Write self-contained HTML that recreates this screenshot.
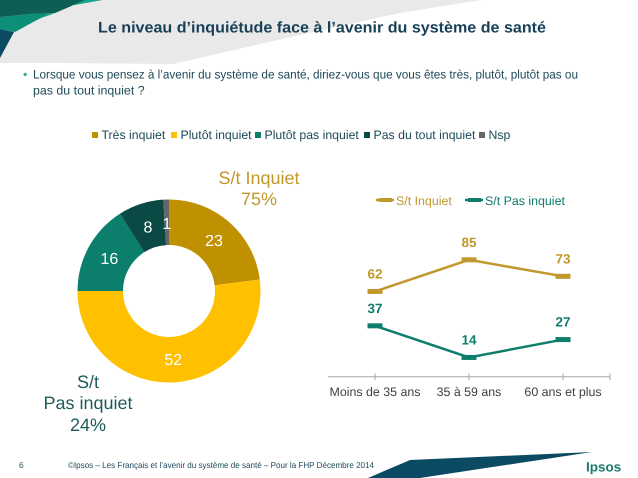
<!DOCTYPE html>
<html lang="fr">
<head>
<meta charset="utf-8">
<title>Le niveau d'inquiétude face à l'avenir du système de santé</title>
<style>
html,body{margin:0;padding:0;background:#fff;}
svg{display:block;font-family:"Liberation Sans",sans-serif;text-rendering:geometricPrecision;}
</style>
</head>
<body>
<svg id="slide" width="638" height="478" viewBox="0 0 638 478" xmlns="http://www.w3.org/2000/svg">
  <g>
    <polygon points="0,0 481,0 400,13 300,35 173,64 60,63 0,63" fill="#e9e9ea"/>
    <polygon points="0,17 30,14 55,13 85,0 102,0 63,7 35,21 15,32 0,29" fill="#0b8f78"/>
    <polygon points="50,15 85,0 102,0 63,7 38,19" fill="#15a58c"/>
    <polygon points="0,0 85,0 55,13 30,14 0,17" fill="#0d5f54"/>
    <polygon points="0,29 14,32 0,58" fill="#0b4a63"/>
  </g>
  <text x="322" y="32.5" text-anchor="middle" font-size="15.5" font-weight="bold" fill="#173f56" textLength="448" lengthAdjust="spacingAndGlyphs">Le niveau d’inquiétude face à l’avenir du système de santé</text>
  <text x="23" y="78.5" font-size="12.4" fill="#35a99a">•</text>
  <text x="33" y="78.5" font-size="12.4" fill="#1f4a5a" textLength="545" lengthAdjust="spacingAndGlyphs">Lorsque vous pensez à l’avenir du système de santé, diriez-vous que vous êtes très, plutôt, plutôt pas ou</text>
  <text x="33" y="94.5" font-size="12.4" fill="#1f4a5a">pas du tout inquiet ?</text>

  <g id="legend" font-size="12.3" fill="#1f4a5a"></g>
  <g id="donut"></g>

  <g font-size="18" fill="#c1982b" text-anchor="middle">
    <text x="259" y="184">S/t Inquiet</text>
    <text x="259" y="205">75%</text>
  </g>
  <g font-size="18" fill="#1f5a5a" text-anchor="middle">
    <text x="88" y="388">S/t</text>
    <text x="88" y="409">Pas inquiet</text>
    <text x="88" y="431">24%</text>
  </g>

  <g id="line-chart"></g>

  <g>
    <text x="19" y="468" font-size="8.5" fill="#1f4a5a">6</text>
    <text x="68" y="468" font-size="8.5" fill="#1f4a5a" textLength="306" lengthAdjust="spacingAndGlyphs">©Ipsos – Les Français et l’avenir du système de santé – Pour la FHP  Décembre 2014</text>
    <polygon points="368,478 410,460 592,452 420,478" fill="#0b4a63"/>
    <text x="586" y="471.5" font-size="13.5" font-weight="bold" fill="#1e7a70">Ipsos</text>
  </g>
</svg>
<script>
var donutCategories = ['Très inquiet', 'Plutôt inquiet', 'Plutôt pas inquiet', 'Pas du tout inquiet', 'Nsp'];
var donutValues = [23, 52, 16, 8, 1];
var donutColors = ['#bf9000', '#ffc000', '#0b7f6b', '#0b4a44', '#666666'];
var lineCategories = ['Moins de 35 ans', '35 à 59 ans', '60 ans et plus'];
var seriesNames = ['S/t Inquiet', 'S/t Pas inquiet'];
var inquietValues = [62, 85, 73];
var pasInquietValues = [37, 14, 27];

var NS = 'http://www.w3.org/2000/svg';
function make(parent, tag, attrs, text) {
  var el = document.createElementNS(NS, tag);
  for (var k in attrs) { el.setAttribute(k, attrs[k]); }
  if (text !== undefined) { el.textContent = text; }
  parent.appendChild(el);
  return el;
}

/* legend */
var legendG = document.getElementById('legend');
var legendSquareX = [92, 171, 255, 364, 479];
for (var li = 0; li < donutCategories.length; li++) {
  var sw = make(legendG, 'rect', {x: legendSquareX[li], y: 132, width: 6, height: 6, fill: donutColors[li]});
  
  
  var lt = make(legendG, 'text', {x: legendSquareX[li] + 9.5, y: 139}, donutCategories[li]);
  
  
}

/* donut */
var donutG = document.getElementById('donut');
var cx = 169, cy = 291, rOuter = 91.5, rInner = 46, rLabel = 68;
function polar(r, frac) {
  var a = frac * 2 * Math.PI;
  return [cx + r * Math.sin(a), cy - r * Math.cos(a)];
}
var total = donutValues.reduce(function (s, v) { return s + v; }, 0);
var acc = 0;
donutValues.forEach(function (v, i) {
  var f0 = acc / total, f1 = (acc + v) / total;
  acc += v;
  var p0 = polar(rOuter, f0), p1 = polar(rOuter, f1), p2 = polar(rInner, f1), p3 = polar(rInner, f0);
  var large = (f1 - f0) > 0.5 ? 1 : 0;
  var d = 'M' + p0[0] + ' ' + p0[1] + 'A' + rOuter + ' ' + rOuter + ' 0 ' + large + ' 1 ' + p1[0] + ' ' + p1[1] +
          'L' + p2[0] + ' ' + p2[1] + 'A' + rInner + ' ' + rInner + ' 0 ' + large + ' 0 ' + p3[0] + ' ' + p3[1] + 'Z';
  var slice = make(donutG, 'path', {d: d, fill: donutColors[i]});
  
  
  var lp = polar(rLabel, (f0 + f1) / 2);
  var label = make(donutG, 'text', {x: lp[0], y: lp[1] + 6, 'font-size': 16, fill: '#fff', 'text-anchor': 'middle'}, String(v));
  
  
});

/* line chart */
var lineG = document.getElementById('line-chart');
function xScale(i) { return 375 + 94 * i; }
function yScale(v) { return 376.7 - 1.375 * v; }
var axisLine = make(lineG, 'line', {x1: 328, y1: 376.7, x2: 610.5, y2: 376.7, stroke: '#a6a6a6', 'stroke-width': 1});


[0, 1, 2, 2.5].forEach(function (t) {
  var tick = make(lineG, 'line', {x1: xScale(t), y1: 373.5, x2: xScale(t), y2: 380, stroke: '#a6a6a6', 'stroke-width': 1});
  
  
});
lineCategories.forEach(function (c, i) {
  var cat = make(lineG, 'text', {x: xScale(i), y: 396, 'font-size': 12.4, fill: '#404040', 'text-anchor': 'middle'}, c);
  
  
});
function drawSeries(values, color) {
  var pts = values.map(function (v, i) { return xScale(i) + ',' + yScale(v); }).join(' ');
  var line = make(lineG, 'polyline', {points: pts, fill: 'none', stroke: color, 'stroke-width': 2.5});
  
  
  values.forEach(function (v, i) {
    var m = make(lineG, 'rect', {x: xScale(i) - 7.5, y: yScale(v) - 2.5, width: 15, height: 5, fill: color});
    
    
    var t = make(lineG, 'text', {x: xScale(i), y: yScale(v) - 13, 'font-size': 13.5, 'font-weight': 'bold', fill: color, 'text-anchor': 'middle'}, String(v));
    
    
  });
}
drawSeries(inquietValues, '#c1982b');
drawSeries(pasInquietValues, '#0f7d6c');

/* line chart legend */
function drawKey(x, name, color, textX) {
  var l = make(lineG, 'line', {x1: x, y1: 200, x2: x + 18, y2: 200, stroke: color, 'stroke-width': 2.5});
  
  
  var k = make(lineG, 'rect', {x: x + 3, y: 198, width: 13, height: 4, fill: color});
  
  
  var t = make(lineG, 'text', {x: textX, y: 205, 'font-size': 12.4, fill: color}, name);
  
  
}
drawKey(376, seriesNames[0], '#c1982b', 396);
drawKey(465, seriesNames[1], '#0f7d6c', 485);
</script>
</body>
</html>
